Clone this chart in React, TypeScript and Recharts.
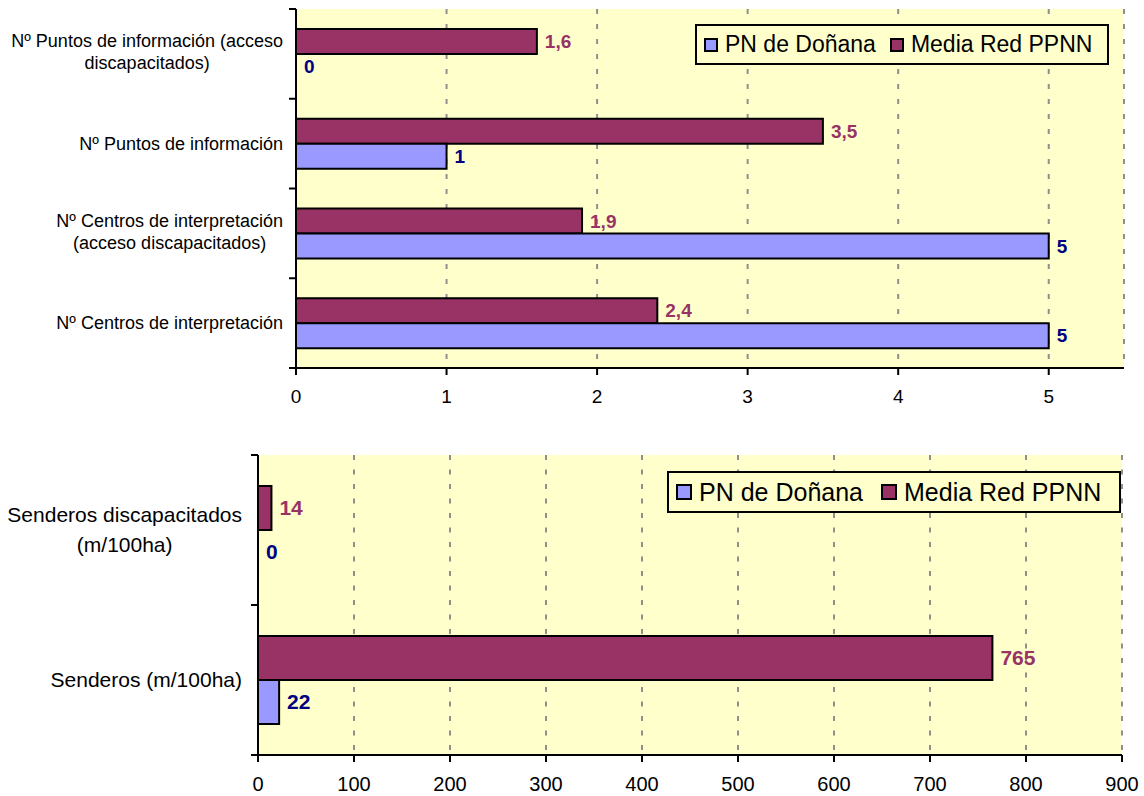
import React from "react";
import {
  BarChart,
  Bar,
  XAxis,
  YAxis,
  CartesianGrid,
  LabelList,
  Legend,
} from "recharts";

// ---------- DATA ----------
const topCategories = [
  "Nº Puntos de información (acceso discapacitados)",
  "Nº Puntos de información",
  "Nº Centros de interpretación (acceso discapacitados)",
  "Nº Centros de interpretación",
];
const topTickLines = [
  ["Nº Puntos de información (acceso", "discapacitados)"],
  ["Nº Puntos de información"],
  ["Nº Centros de interpretación", "(acceso discapacitados)"],
  ["Nº Centros de interpretación"],
];
const topPN = [0, 1, 5, 5];
const topMedia = [1.6, 3.5, 1.9, 2.4];
const topTicks = [0, 1, 2, 3, 4, 5];
const topMax = 5.5;

const bottomCategories = ["Senderos discapacitados (m/100ha)", "Senderos (m/100ha)"];
const bottomTickLines = [["Senderos discapacitados", "(m/100ha)"], ["Senderos (m/100ha)"]];
const bottomPN = [0, 22];
const bottomMedia = [14, 765];
const bottomTicks = [0, 100, 200, 300, 400, 500, 600, 700, 800, 900];
const bottomMax = 900;

const seriesNames = ["PN de Doñana", "Media Red PPNN"];

// ---------- STYLE ----------
const FONT = 'Arial, "Liberation Sans", sans-serif';
const PN_COLOR = "#9999FF";
const MEDIA_COLOR = "#993366";
const PN_LABEL = "#000080";
const BG = "#FFFFCC";
const GRID = "#8f8f8f";

let ctx: CanvasRenderingContext2D | null = null;
function textWidth(s: string, size: number) {
  if (!ctx) ctx = document.createElement("canvas").getContext("2d");
  if (!ctx) return s.length * size * 0.5;
  ctx.font = `${size}px ${FONT}`;
  return ctx.measureText(s).width;
}

const fmt = (v: any) => {
  const n = Array.isArray(v) ? v[v.length - 1] : v;
  return String(n).replace(".", ",");
};

type Cfg = {
  top: number;
  height: number;
  margin: { top: number; right: number; bottom: number; left: number };
  yWidth: number;
  xHeight: number;
  categories: string[];
  tickLines: string[][];
  pn: number[];
  media: number[];
  ticks: number[];
  max: number;
  catFont: number;
  lineGap: number;
  catRightGap: number;
  catShift: number;
  tickFont: number;
  labelFont: number;
  barSize: number;
  legend: { left: number; top: number; width: number; height: number; font: number; sq: number; gap: number };
  dash: string;
};

function CatTick(props: any) {
  const { y, index, cfg, band } = props;
  const lines: string[] = cfg.tickLines[index] || [];
  const axisX = cfg.yWidth + cfg.margin.left;
  const right = axisX - cfg.catRightGap;
  const maxW = Math.max(...lines.map((l) => textWidth(l, cfg.catFont)));
  const cx = right - maxW / 2;
  const n = lines.length;
  const start = y - ((n - 1) * cfg.lineGap) / 2 + (n > 1 ? cfg.catShift : 0);
  const count = cfg.categories.length;
  return (
    <g>
      {lines.map((l, i) => (
        <text
          key={i}
          x={cx}
          y={start + i * cfg.lineGap}
          dy="0.35em"
          textAnchor="middle"
          fontSize={cfg.catFont}
          fill="#000"
          fontFamily={FONT}
        >
          {l}
        </text>
      ))}
      <line x1={axisX - 7} x2={axisX} y1={y - band / 2} y2={y - band / 2} stroke="#000" strokeWidth={2} />
      {index === count - 1 && (
        <line x1={axisX - 7} x2={axisX} y1={y + band / 2} y2={y + band / 2} stroke="#000" strokeWidth={2} />
      )}
    </g>
  );
}

function makeLabel(color: string, size: number) {
  return (p: any) => {
    const vb = p.viewBox && p.viewBox.x != null ? p.viewBox : p;
    const x = Number(vb.x) || 0;
    const y = Number(vb.y) || 0;
    const w = Number(vb.width) || 0;
    const h = Number(vb.height) || 0;
    return (
      <text
        x={x + Math.max(w, 0) + 8}
        y={y + h / 2}
        dy="0.35em"
        textAnchor="start"
        fill={color}
        fontSize={size}
        fontWeight="bold"
        fontFamily={FONT}
      >
        {fmt(p.value)}
      </text>
    );
  };
}

function LegendBox({ cfg }: { cfg: Cfg }) {
  const L = cfg.legend;
  const colors = [PN_COLOR, MEDIA_COLOR];
  return (
    <div
      style={{
        boxSizing: "border-box",
        width: L.width,
        height: L.height,
        border: "2px solid #000",
        background: BG,
        display: "flex",
        alignItems: "center",
        paddingLeft: 7,
        fontFamily: FONT,
        fontSize: L.font,
        color: "#000",
        whiteSpace: "nowrap",
      }}
    >
      {seriesNames.map((name, i) => (
        <div key={name} style={{ display: "flex", alignItems: "center", marginRight: L.gap }}>
          <span
            style={{
              display: "inline-block",
              boxSizing: "border-box",
              width: L.sq,
              height: L.sq,
              background: colors[i],
              border: "2px solid #000",
              marginRight: 7,
            }}
          />
          <span>{name}</span>
        </div>
      ))}
    </div>
  );
}

function Chart({ cfg }: { cfg: Cfg }) {
  const data = cfg.categories.map((c, i) => ({ name: c, pn: cfg.pn[i], media: cfg.media[i] }));
  const plotH = cfg.height - cfg.margin.top - cfg.margin.bottom - cfg.xHeight;
  const band = plotH / cfg.categories.length;
  return (
    <div style={{ position: "absolute", left: 0, top: cfg.top, width: 1144, height: cfg.height }}>
      <BarChart
        width={1144}
        height={cfg.height}
        data={data}
        layout="vertical"
        margin={cfg.margin}
        barGap={0}
        barSize={cfg.barSize}
        style={{ fontFamily: FONT }}
      >
        <CartesianGrid
          horizontal={false}
          vertical={true}
          fill={BG}
          stroke={GRID}
          strokeWidth={2}
          strokeDasharray={cfg.dash}
        />
        <XAxis
          type="number"
          domain={[0, cfg.max]}
          ticks={cfg.ticks}
          interval={0}
          height={cfg.xHeight}
          tickSize={7}
          tickMargin={15}
          axisLine={{ stroke: "#000", strokeWidth: 2 }}
          tickLine={{ stroke: "#000", strokeWidth: 2 }}
          tick={{ fill: "#000", fontSize: cfg.tickFont, fontFamily: FONT }}
          allowDataOverflow
        />
        <XAxis
          xAxisId="frame"
          orientation="top"
          type="number"
          domain={[0, cfg.max]}
          height={0}
          tick={false}
          tickLine={false}
          axisLine={{ stroke: GRID, strokeWidth: 2 }}
        />
        <YAxis
          type="category"
          dataKey="name"
          width={cfg.yWidth}
          axisLine={{ stroke: "#000", strokeWidth: 2 }}
          tickLine={false}
          interval={0}
          tick={(p: any) => <CatTick {...p} cfg={cfg} band={band} />}
        />
        <YAxis
          yAxisId="frame"
          orientation="right"
          type="category"
          dataKey="name"
          width={0}
          tick={false}
          tickLine={false}
          axisLine={{ stroke: GRID, strokeWidth: 2 }}
        />
        <Legend
          layout="horizontal"
          verticalAlign="middle"
          align="center"
          content={() => <LegendBox cfg={cfg} />}
          wrapperStyle={{
            position: "absolute",
            left: cfg.legend.left,
            top: cfg.legend.top,
            width: cfg.legend.width,
            height: cfg.legend.height,
          }}
        />
        <Bar dataKey="media" name={seriesNames[1]} fill={MEDIA_COLOR} stroke="#000" strokeWidth={2} isAnimationActive={false}>
          <LabelList dataKey="media" content={makeLabel(MEDIA_COLOR, cfg.labelFont)} />
        </Bar>
        <Bar
          dataKey="pn"
          name={seriesNames[0]}
          fill={PN_COLOR}
          stroke="#000"
          strokeWidth={2}
          minPointSize={0.01}
          isAnimationActive={false}
        >
          <LabelList dataKey="pn" content={makeLabel(PN_LABEL, cfg.labelFont)} />
        </Bar>
      </BarChart>
    </div>
  );
}

const topCfg: Cfg = {
  top: 0,
  height: 420,
  margin: { top: 9, right: 20, bottom: 22, left: 0 },
  yWidth: 296,
  xHeight: 30,
  categories: topCategories,
  tickLines: topTickLines,
  pn: topPN,
  media: topMedia,
  ticks: topTicks,
  max: topMax,
  catFont: 18,
  lineGap: 22,
  catRightGap: 13,
  catShift: -2,
  tickFont: 19,
  labelFont: 19,
  barSize: 25,
  legend: { left: 695, top: 24, width: 414, height: 41, font: 23, sq: 14, gap: 14 },
  dash: "5 10",
};

const bottomCfg: Cfg = {
  top: 420,
  height: 376,
  margin: { top: 35, right: 22, bottom: 6, left: 0 },
  yWidth: 258,
  xHeight: 35,
  categories: bottomCategories,
  tickLines: bottomTickLines,
  pn: bottomPN,
  media: bottomMedia,
  ticks: bottomTicks,
  max: bottomMax,
  catFont: 21,
  lineGap: 30,
  catRightGap: 16,
  catShift: 0,
  tickFont: 20,
  labelFont: 21,
  barSize: 44,
  legend: { left: 667, top: 51, width: 454, height: 42, font: 25, sq: 16, gap: 18 },
  dash: "5 9.5",
};

export default function App() {
  return (
    <div
      style={{
        position: "absolute",
        left: 0,
        top: 0,
        width: 1144,
        height: 796,
        background: "#fff",
        fontFamily: FONT,
        overflow: "hidden",
      }}
    >
      <Chart cfg={topCfg} />
      <Chart cfg={bottomCfg} />
    </div>
  );
}
